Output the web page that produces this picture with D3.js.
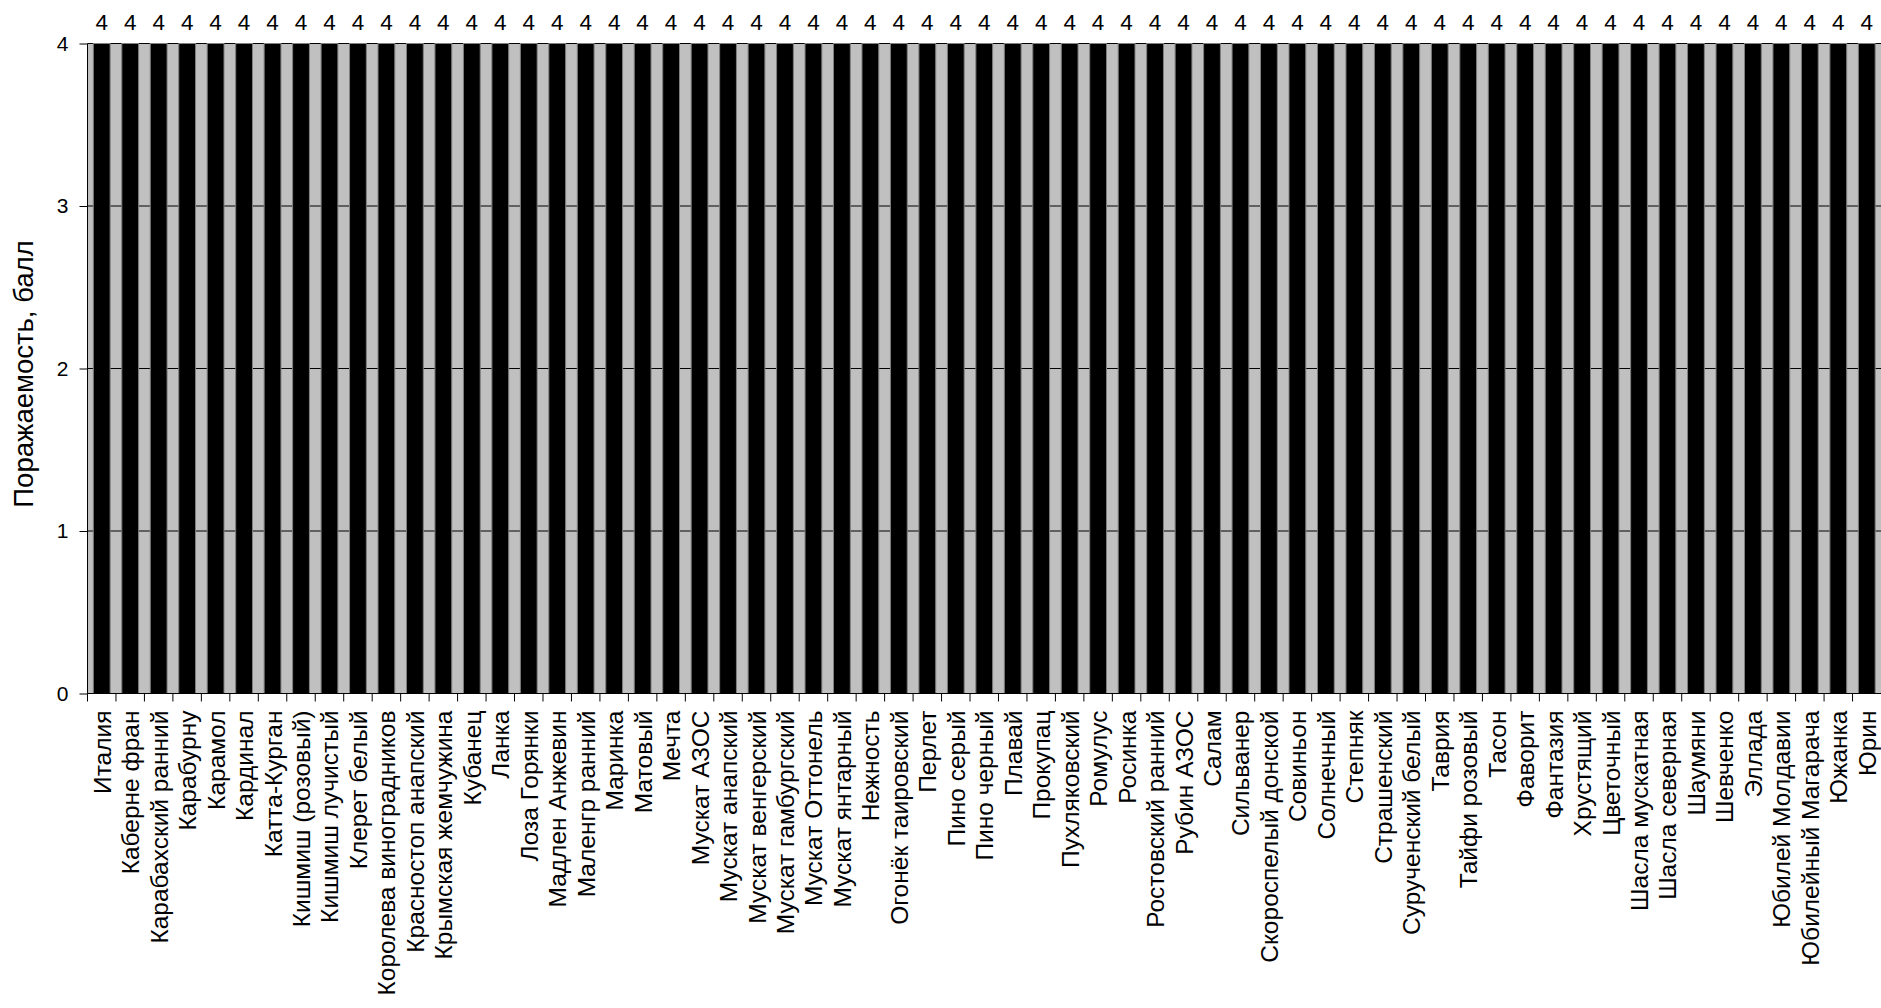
<!DOCTYPE html>
<html><head><meta charset="utf-8">
<script src="https://cdn.jsdelivr.net/npm/d3@7/dist/d3.min.js"></script>
<style>body{margin:0;background:#fff;} svg{display:block;font-family:"Liberation Sans",Arial,sans-serif;}</style>
</head><body>
<script>
const categories = ["Италия","Каберне фран","Карабахский ранний","Карабурну","Карамол","Кардинал","Катта-Курган","Кишмиш (розовый)","Кишмиш лучистый","Клерет  белый","Королева виноградников","Красностоп анапский","Крымская жемчужина","Кубанец","Ланка","Лоза Горянки","Мадлен Анжевин","Маленгр ранний","Маринка","Матовый","Мечта","Мускат АЗОС","Мускат анапский","Мускат венгерский","Мускат гамбургский","Мускат Оттонель","Мускат янтарный","Нежность","Огонёк таировский","Перлет","Пино серый","Пино черный","Плавай","Прокупац","Пухляковский","Ромулус","Росинка","Ростовский ранний","Рубин АЗОС","Салам","Сильванер","Скороспелый донской","Совиньон","Солнечный","Степняк","Страшенский","Сурученский белый","Таврия","Тайфи розовый","Тасон","Фаворит","Фантазия","Хрустящий","Цветочный","Шасла мускатная","Шасла северная","Шаумяни","Шевченко","Эллада","Юбилей Молдавии","Юбилейный Магарача","Южанка","Юрин"];
const values = [4,4,4,4,4,4,4,4,4,4,4,4,4,4,4,4,4,4,4,4,4,4,4,4,4,4,4,4,4,4,4,4,4,4,4,4,4,4,4,4,4,4,4,4,4,4,4,4,4,4,4,4,4,4,4,4,4,4,4,4,4,4,4];
const yTicks = [0,1,2,3,4];
const yTitle = "Поражаемость, балл";

const W = 1881, H = 1008;
const m = {left: 87.5, right: 0, top: 43.5, bottom: H - 693.5};
const svg = d3.select("body").append("svg").attr("width", W).attr("height", H);
const x = d3.scaleBand().domain(categories).range([m.left, W - m.right]).paddingInner(0.41).paddingOuter(0.205);
const y = d3.scaleLinear().domain([0,4]).range([H - m.bottom, m.top]);

// plot background
svg.append("rect").attr("x", m.left).attr("y", m.top).attr("width", W - m.right - m.left).attr("height", H - m.bottom - m.top).attr("fill", "#c0c0c0");

// gridlines
svg.append("g").selectAll("line").data(yTicks.filter(d => d > 0)).join("line")
  .attr("x1", m.left).attr("x2", W - m.right).attr("y1", d => y(d)).attr("y2", d => y(d))
  .attr("stroke", "#000").attr("stroke-width", 1);

// bars
svg.append("g").selectAll("rect").data(values).join("rect")
  .attr("x", (d,i) => x(categories[i])).attr("width", x.bandwidth())
  .attr("y", d => y(d)).attr("height", d => y(0) - y(d))
  .attr("fill", "#000").attr("stroke", "#808080").attr("stroke-width", 1);

// value labels
svg.append("g").selectAll("text").data(values).join("text")
  .attr("x", (d,i) => x(categories[i]) + x.bandwidth()/2).attr("y", d => y(d) - 14)
  .attr("text-anchor", "middle").attr("font-size", 22.5).text(d => d);

// y axis
const yAxis = svg.append("g").attr("transform", `translate(${m.left},0)`)
  .call(d3.axisLeft(y).tickValues(yTicks).tickSize(8).tickPadding(11).tickFormat(d3.format("d")));
yAxis.select(".domain").attr("stroke", "#000").attr("d", `M0,${y(4)}V${y(0)}`);
yAxis.selectAll(".tick text").attr("font-size", 21).attr("font-family", "Liberation Sans, Arial, sans-serif").attr("fill", "#000");
yAxis.selectAll(".tick line").attr("stroke", "#000");

// x axis with ticks at category boundaries
const bounds = categories.map((c,i) => m.left + i * (W - m.left - m.right) / categories.length);
const xg = svg.append("g");
xg.append("line").attr("x1", m.left).attr("x2", W - m.right).attr("y1", y(0)).attr("y2", y(0)).attr("stroke", "#000");
xg.selectAll("line.t").data(bounds).join("line").attr("class","t")
  .attr("x1", d => d).attr("x2", d => d).attr("y1", y(0)).attr("y2", y(0) + 8).attr("stroke", "#000");
xg.selectAll("text").data(categories).join("text")
  .attr("transform", c => `translate(${x(c) + x.bandwidth()/2 + 9},${y(0) + 17}) rotate(-90)`)
  .attr("text-anchor", "end").attr("font-size", 24.5).text(c => c);

// y title
svg.append("text").attr("transform", `translate(33,374) rotate(-90)`)
  .attr("text-anchor", "middle").attr("font-size", 27.5).text(yTitle);
</script>
</body></html>
